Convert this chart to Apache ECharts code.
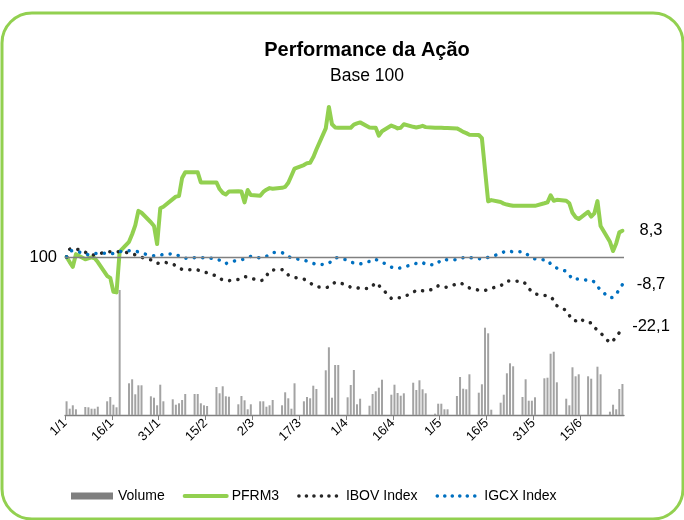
<!DOCTYPE html>
<html>
<head>
<meta charset="utf-8">
<script src="https://cdn.jsdelivr.net/npm/echarts@6/dist/echarts.min.js"></script>
<style>
  html, body { margin: 0; padding: 0; background: #fff; }
  #chart { width: 684px; height: 520px; }
</style>
</head>
<body>
<div id="chart"></div>
<script>
// pregões, em dias contados a partir de 1/1
const days = [
  0, 1, 2, 3,
  6, 7, 8, 9, 10,
  13, 14, 15, 16, 17,
  20, 21, 22, 23, 24,
  27, 28, 29, 30, 31,
  34, 35, 36, 37, 38,
  41, 42, 43, 44, 45,
  48, 49, 50, 51, 52,
  55, 56, 57, 58, 59,
  62, 63, 64, 65, 66,
  69, 70, 71, 72, 73,
  76, 77, 78, 79, 80,
  83, 84, 85, 86, 87,
  90, 91, 92, 93, 94,
  97, 98, 99, 100, 101,
  104, 105, 106, 107, 108,
  111, 112, 113, 114, 115,
  118, 119, 120, 121, 122,
  125, 126, 127, 128, 129,
  132, 133, 134, 135, 136,
  139, 140, 141, 142, 143,
  146, 147, 148, 149, 150,
  153, 154, 155, 156, 157,
  160, 161, 162, 163, 164,
  167, 168, 169, 170, 171,
  174, 175, 176, 177, 178
]

const volume = [
  13.7, 6.3, 9.7, 5.7,
  8, 7.7, 6.3, 6.3, 8.3,
  13.7, 18, 10.3, 7.7, 125,
  31.7, 35.7, 20.7, 29.7, 29.7,
  18.7, 17.3, 9.7, 30.3, 13.7,
  15.7, 10.3, 11.7, 15, 21,
  21, 21, 11.7, 9.7, 9,
  28, 21.7, 28.7, 18.7, 18.3,
  10.7, 19, 14.7, 5.7, 10.7,
  13.7, 13.7, 8.3, 9.7, 15,
  9.7, 22.7, 16.7, 6.3, 31.7,
  13.7, 18, 16.7, 29.3, 26,
  44.7, 67.7, 17.3, 50, 50,
  17.7, 30, 45, 10.7, 16.3,
  9.3, 21, 23.7, 27.3, 35.3,
  20.3, 30.3, 22, 19.3, 21.7,
  32.3, 25, 34.7, 25.7, 21.7,
  1.3, 11.3, 11.3, 5.7, 5.7,
  19, 38, 26.3, 25.7, 40.7,
  22.3, 30.7, 87.3, 81.7, 5.3,
  12.3, 20.3, 41.7, 51.7, 48.7,
  18, 35.7, 14.3, 14.3, 17.7,
  36.7, 37.3, 61.3, 63.3, 32.7,
  16.3, 9.7, 47.7, 38.7, 40.7,
  38.7, 36.3, 0, 48.3, 40.7,
  3.3, 10.3, 5.7, 26, 31
]

const pfrm3 = [
  100, 98.4, 96.9, 100.9,
  99.3, 99.6, 99.9, 99.6, 98.4,
  94, 93.4, 89, 88.8, 101.7,
  104.8, 107.2, 110, 114.6, 114,
  111, 109.8, 104.1, 115.4, 115.9,
  118.3, 119.1, 119.3, 125, 126.8,
  126.8, 126.8, 123.6, 123.6, 123.6,
  123.6, 121.5, 120.3, 119.8, 120.7,
  120.8, 120.7, 117.3, 121.2, 119.6,
  119.4, 120.6, 121.3, 121.8, 121.6,
  121.9, 122.2, 123.5, 125.7, 128,
  129.1, 129.7, 129.8, 131.6, 134,
  140.7, 147.5, 142, 141, 140.9,
  140.9, 140.9, 141.9, 142.3, 142.6,
  141, 140.9, 140.9, 138.4, 139.8,
  141.6, 141.2, 140.7, 140.9, 142,
  141.2, 141, 141.2, 141.5, 141.1,
  140.9, 140.9, 140.9, 140.8, 140.8,
  140.7, 140.2, 139.6, 139.2, 138.7,
  138.6, 137.6, 127.5, 117.6, 118,
  117.4, 116.9, 116.6, 116.4, 116.2,
  116.2, 116.2, 116.2, 116.2, 116.2,
  117, 117.3, 119.5, 117.8, 118.1,
  117.8, 117, 114, 112.6, 112,
  114.3, 112.8, 113.8, 117.7, 109.8,
  104.8, 101.9, 104.3, 107.8, 108.3
]

const ibov = [
  100, 102.5, 102.7, 102.6,
  101.5, 100.9, 100.6, 100.7, 100.9,
  101.7, 101.7, 101.7, 101.7, 101.7,
  101.3, 101.1, 100.7, 100.3, 99.9,
  99.1, 98.7, 98, 98.1, 98.4,
  97.8, 97.2, 96.5, 96.1, 96,
  95.9, 95.9, 95.6, 95.3, 95,
  94, 93.3, 92.7, 92.6, 92.5,
  92.9, 93.5, 93.8, 93.6, 93.3,
  92.5, 92.7, 94, 95.6, 95.9,
  96, 95.6, 94.3, 93.9, 93.5,
  93, 92.5, 91.8, 91.1, 90.6,
  90.3, 90.5, 91.2, 92, 92,
  91, 90.4, 90.4, 90.3, 90,
  90, 90.9, 91.9, 91, 90,
  86.9, 86.8, 87.1, 87.1, 87.4,
  88.8, 89.5, 89.5, 89.3, 89.2,
  90, 90.9, 90.7, 90.4, 90.5,
  91.5, 91.8, 91.4, 90.7, 90.2,
  89.5, 89.3, 89.4, 89.8, 90.1,
  90.9, 91.6, 92.4, 92.4, 92.4,
  92.3, 91.5, 90, 89.1, 88.3,
  87.8, 87.8, 87.4, 86.4, 84.6,
  83.1, 81.5, 80, 79.8, 80.6,
  79.1, 79.2, 77.8, 76.8, 76,
  72.8, 73.6, 74.5, 76.1, 77.9
]

const igcx = [
  100, 101.8, 102.1, 101.9,
  101, 100.7, 100.9, 101.1, 101.2,
  101.2, 101, 101.1, 101.5, 101.7,
  102, 102, 101.9, 101.6, 101.2,
  100.5, 100.4, 100.4, 100.5, 100.9,
  101, 100.9, 100.3, 99.8, 99.6,
  99.8, 99.8, 99.8, 99.8, 99.8,
  99.4, 99, 98.2, 97.9, 98.4,
  99, 99.1, 99.5, 100, 100.2,
  99.7, 99.8, 100.2, 100.9, 101.4,
  101.4, 100.9, 100.1, 99.8, 99.5,
  99, 98.7, 98.3, 98, 97.6,
  97.7, 98, 98.9, 99.7, 99.8,
  99, 98.4, 98.1, 97.8, 97.8,
  98.6, 99.3, 99.2, 98.9, 98.4,
  96.8, 96.5, 96.3, 96.6, 96.9,
  97.6, 98, 98.3, 98.3, 97.6,
  97.5, 98.2, 99.2, 99.2, 99.1,
  99.1, 99.3, 99.8, 100, 99.8,
  99.5, 99.4, 99.6, 99.9, 100.1,
  101.1, 101.6, 102, 101.8, 101.6,
  101.7, 101.2, 100.4, 99.8, 99.4,
  99.1, 99, 97.8, 96.9, 96.5,
  95.5, 94.3, 92.9, 93, 93,
  92.6, 92.7, 92.1, 90.8, 89.4,
  87.1, 87.2, 88.3, 89.7, 91.3
]

const xTicks = [0, 15, 30, 45, 60, 75, 90, 105, 120, 135, 150, 165]
const xTickLabels = ['1/1', '16/1', '31/1', '15/2', '2/3', '17/3', '1/4', '16/4', '1/5', '16/5', '31/5', '15/6']
const base = 100

const font = 'Liberation Sans, Arial, sans-serif'
const green = '#92d050'

// cada pregão fica no meio do seu dia no eixo
const pair = arr => days.map((d, i) => [d + 0.5, arr[i]])

const chart = echarts.init(document.getElementById('chart'))

const option = {
  animation: false,
  textStyle: { fontFamily: font },
  grid: { left: 65, right: 60, top: 99, bottom: 105 },
  legend: {
    left: 66,
    top: 484,
    itemWidth: 42,
    itemHeight: 7,
    itemGap: 18,
    textStyle: { fontSize: 14, color: '#000', fontFamily: font },
    data: [
      { name: 'Volume', icon: 'rect', itemStyle: { color: '#7f7f7f' } },
      { name: 'PFRM3', itemStyle: { opacity: 0 }, lineStyle: { width: 4 } },
      { name: 'IBOV Index', itemStyle: { opacity: 0 }, lineStyle: { width: 3.5, type: [0.1, 7.4] } },
      { name: 'IGCX Index', itemStyle: { opacity: 0 }, lineStyle: { width: 3.5, type: [0.1, 7.4] } }
    ]
  },
  xAxis: {
    type: 'value',
    min: 0,
    max: 179,
    splitLine: { show: false },
    axisLine: { lineStyle: { color: '#808080', width: 1.3 } },
    axisTick: { customValues: xTicks, length: 5, lineStyle: { color: '#808080' } },
    axisLabel: {
      customValues: xTicks,
      rotate: 45,
      margin: 6,
      color: '#000',
      fontSize: 13,
      formatter: v => xTickLabels[xTicks.indexOf(v)] || ''
    }
  },
  yAxis: [
    {
      type: 'value',
      min: 50,
      max: 150,
      splitLine: { show: false },
      axisLine: { show: false },
      axisTick: { show: false },
      axisLabel: { customValues: [base], color: '#000', fontSize: 16.5, margin: 8 }
    },
    {
      type: 'value',
      min: 0,
      max: 316,
      show: false,
      splitLine: { show: false }
    }
  ],
  series: [
    {
      name: 'Volume',
      type: 'bar',
      yAxisIndex: 1,
      barWidth: 2,
      itemStyle: { color: '#a3a3a3' },
      data: pair(volume)
    },
    {
      name: 'PFRM3',
      type: 'line',
      symbol: 'none',
      lineStyle: { color: green, width: 4, join: 'round', cap: 'round' },
      itemStyle: { color: green },
      data: pair(pfrm3),
      markLine: {
        silent: true,
        symbol: 'none',
        label: { show: false },
        lineStyle: { color: '#808080', width: 1.3, type: 'solid' },
        data: [{ yAxis: base }]
      }
    },
    {
      name: 'IBOV Index',
      type: 'line',
      symbol: 'none',
      lineStyle: { color: '#262626', width: 3.5, type: [0.1, 8.3], cap: 'round' },
      itemStyle: { color: '#262626' },
      data: pair(ibov)
    },
    {
      name: 'IGCX Index',
      type: 'line',
      symbol: 'none',
      lineStyle: { color: '#0070c0', width: 3.5, type: [0.1, 8.3], cap: 'round' },
      itemStyle: { color: '#0070c0' },
      data: pair(igcx)
    }
  ],
  graphic: [
    {
      id: 'frame',
      type: 'rect',
      z: -10,
      shape: { x: 2, y: 13, width: 681, height: 506, r: 30 },
      style: { fill: 'none', stroke: green, lineWidth: 3 }
    },
    {
      id: 'title',
      type: 'text',
      x: 367,
      y: 50,
      style: { text: 'Performance da Ação', font: 'bold 20px ' + font, fill: '#000', align: 'center', verticalAlign: 'middle' }
    },
    {
      id: 'subtitle',
      type: 'text',
      x: 367,
      y: 76,
      style: { text: 'Base 100', font: '17.5px ' + font, fill: '#000', align: 'center', verticalAlign: 'middle' }
    }
  ]
}

chart.setOption(option)

// variação final de cada linha, escrita à direita do gráfico
const fmt = v => (v - base).toFixed(1).replace('.', ',')
const ends = [pfrm3, igcx, ibov].map((arr, k) => {
  const last = arr.length - 1
  const pt = chart.convertToPixel({ xAxisIndex: 0, yAxisIndex: 0 }, [days[last] + 0.5, arr[last]])
  return {
    id: 'end' + k,
    type: 'text',
    x: 651,
    y: pt[1],
    style: { text: fmt(arr[last]), font: '16.5px ' + font, fill: '#000', align: 'center', verticalAlign: 'middle' }
  }
})
chart.setOption({ graphic: ends })
</script>
</body>
</html>
